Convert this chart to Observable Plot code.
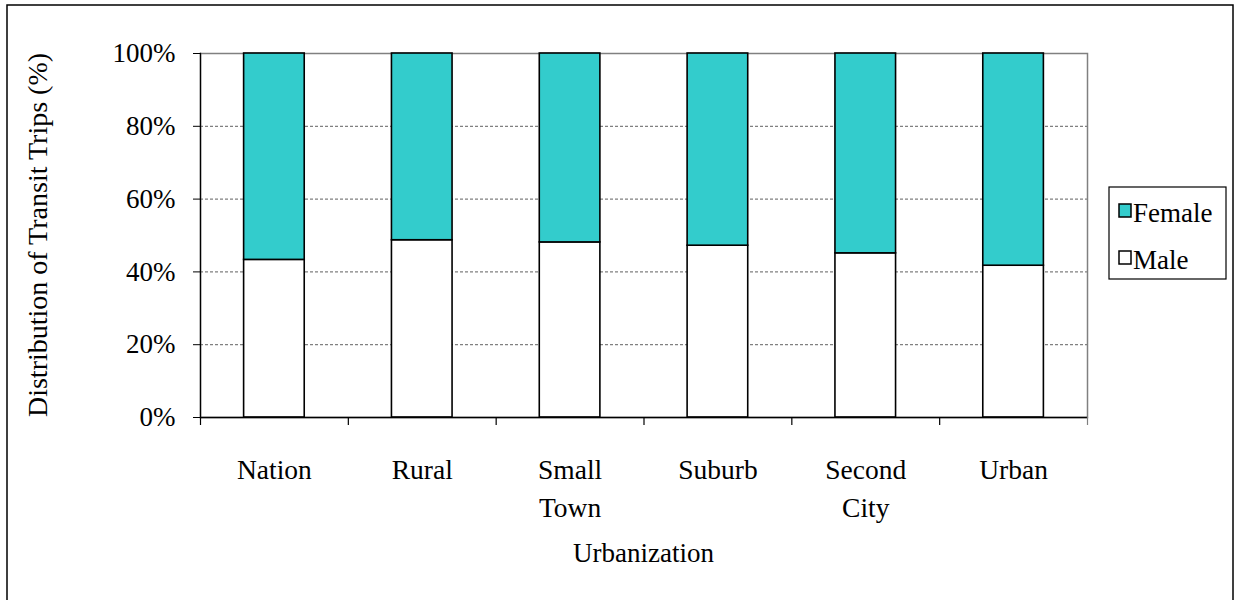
<!DOCTYPE html>
<html>
<head>
<meta charset="utf-8">
<script src="https://cdn.jsdelivr.net/npm/d3@7"></script>
<script src="https://cdn.jsdelivr.net/npm/@observablehq/plot@0.6"></script>
<style>
  html, body { margin: 0; padding: 0; background: #fff; }
  #chart { position: relative; width: 1235px; height: 600px; overflow: hidden; }
</style>
</head>
<body>
<div id="chart"></div>
<script>
// ---- Data ----
const categories = ["Nation", "Rural", "Small Town", "Suburb", "Second City", "Urban"];
const male   = [43.3, 48.7, 48.1, 47.2, 45.1, 41.7];
const female = [56.7, 51.3, 51.9, 52.8, 54.9, 58.3];
const series = ["Male", "Female"];
const seriesColors = ["#FFFFFF", "#33CCCC"];
const legendOrder = ["Female", "Male"];
const yTicks = [0, 20, 40, 60, 80, 100];
const gridTicks = [20, 40, 60, 80];
const yLabel = "Distribution of Transit Trips (%)";
const xLabel = "Urbanization";

const rows = categories.flatMap((c, i) => [
  {cat: c, series: "Male", value: male[i]},
  {cat: c, series: "Female", value: female[i]}
]);

// ---- Layout ----
const W = 1235, H = 600;
const mL = 200, mR = 148, mT = 53, mB = 183;
const FS = 27;
const FONT = '"Liberation Serif", "Times New Roman", serif';
const step = (W - mL - mR) / categories.length;

const chart = Plot.plot({
  width: W, height: H,
  marginLeft: mL, marginRight: mR, marginTop: mT, marginBottom: mB,
  style: {fontFamily: FONT, fontSize: FS + "px", background: "white", color: "black"},
  x: {domain: categories, paddingInner: 0.59, paddingOuter: 0.295, round: false, label: null},
  y: {domain: [0, 100], label: null},
  color: {domain: series, range: seriesColors},
  marks: [
    Plot.frame({stroke: "#808080", strokeWidth: 1.5}),
    Plot.ruleY(gridTicks, {stroke: "#808080", strokeWidth: 1.2, strokeDasharray: "3,2"}),
    Plot.barY(rows, {x: "cat", y: "value", fill: "series", order: series, stroke: "black", strokeWidth: 1.6}),
    Plot.ruleY([0], {stroke: "black", strokeWidth: 1.3}),
    Plot.frame({anchor: "left", stroke: "black", strokeWidth: 1.3}),
    Plot.ruleX(categories, {x: d => d, dx: -step / 2, y1: 0, y2: 0, insetBottom: -8, stroke: "black", strokeWidth: 1.2}),
    Plot.ruleX(categories.slice(-1), {x: d => d, dx: step / 2, y1: 0, y2: 0, insetBottom: -8, stroke: "#808080", strokeWidth: 1.2}),
    Plot.axisY(yTicks, {tickSize: 7, tickPadding: 18, tickFormat: d => d + "%", fontSize: FS, label: null, stroke: "black"}),
    Plot.axisX({tickSize: 0, tickPadding: 34, fontSize: FS + 0.5, lineHeight: 1.4, tickFormat: d => d.replace(" ", "\n"), label: null})
  ]
});

document.getElementById("chart").appendChild(chart);
const svg = d3.select(chart);

// Outer border
svg.append("rect").attr("x", 7).attr("y", 5).attr("width", 1226).attr("height", 620)
  .attr("fill", "none").attr("stroke", "black").attr("stroke-width", 1.5);

// Axis titles
svg.append("text").attr("transform", `translate(47,${mT + (H - mT - mB) / 2}) rotate(-90)`)
  .attr("text-anchor", "middle").attr("font-family", FONT).attr("font-size", FS + 1).attr("fill", "black").text(yLabel);
svg.append("text").attr("x", mL + (W - mL - mR) / 2).attr("y", 562)
  .attr("text-anchor", "middle").attr("font-family", FONT).attr("font-size", FS).attr("fill", "black").text(xLabel);

// Legend
const lg = svg.append("g");
lg.append("rect").attr("x", 1109).attr("y", 187).attr("width", 117).attr("height", 92)
  .attr("fill", "white").attr("stroke", "black").attr("stroke-width", 1.2);
legendOrder.forEach((s, i) => {
  const y0 = 204 + i * 47;
  lg.append("rect").attr("x", 1119).attr("y", y0).attr("width", 12).attr("height", 13)
    .attr("fill", seriesColors[series.indexOf(s)]).attr("stroke", "black").attr("stroke-width", 1.5);
  lg.append("text").attr("x", 1133).attr("y", y0 + 18).attr("text-anchor", "start")
    .attr("font-family", FONT).attr("font-size", FS).attr("fill", "black").text(s);
});
</script>
</body>
</html>
